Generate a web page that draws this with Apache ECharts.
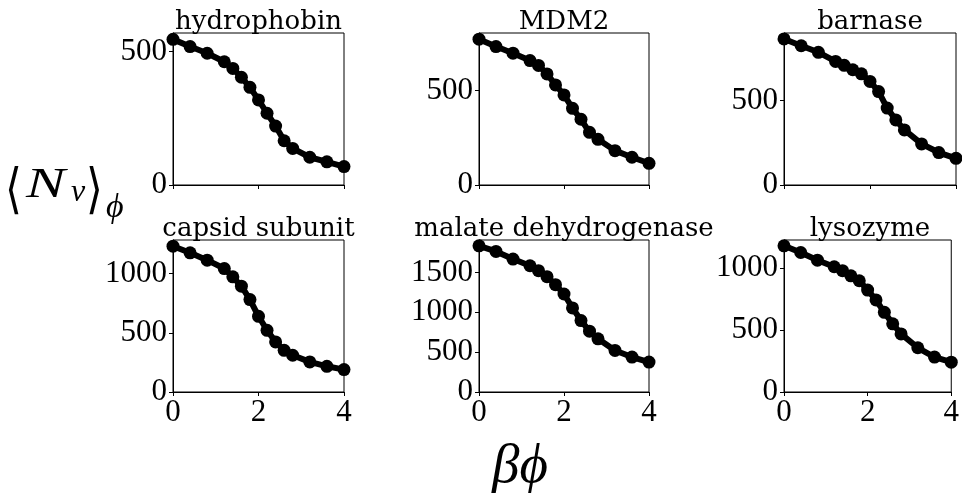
<!DOCTYPE html>
<html><head><meta charset="utf-8">
<script src="https://cdn.jsdelivr.net/npm/echarts@6/dist/echarts.min.js"></script>
<style>html,body{margin:0;padding:0;background:#fff}#c{width:962px;height:493px}</style>
</head><body><div id="c"></div>
<script>
const betaPhi = [0, 0.4, 0.8, 1.2, 1.4, 1.6, 1.8, 2.0, 2.2, 2.4, 2.6, 2.8, 3.2, 3.6, 4.0];
const hydrophobin = [546, 519, 494, 462, 437, 404, 366, 319, 269, 221, 166, 137, 104, 87, 69];
const mdm2 = [772, 733, 698, 659, 633, 588, 530, 477, 406, 348, 279, 242, 182, 147, 115];
const barnase = [864, 824, 785, 731, 708, 682, 658, 613, 553, 455, 385, 326, 243, 192, 158];
const capsid = [1231, 1175, 1113, 1042, 972, 893, 780, 639, 521, 423, 352, 310, 254, 217, 189];
const malate = [1833, 1763, 1667, 1583, 1521, 1446, 1346, 1229, 1054, 896, 763, 667, 521, 438, 375];
const lysozyme = [1180, 1126, 1064, 1011, 979, 938, 898, 823, 743, 643, 550, 469, 357, 282, 241];
const titles = ['hydrophobin', 'MDM2', 'barnase', 'capsid subunit', 'malate dehydrogenase', 'lysozyme'];
const yTicks = [[0, 500], [0, 500], [0, 500], [0, 500, 1000], [0, 500, 1000, 1500], [0, 500, 1000]];
const seriesData = [hydrophobin, mdm2, barnase, capsid, malate, lysozyme];

const cols = [{left: 173, width: 171}, {left: 479, width: 170}, {left: 784, width: 172}];
const rows = [{top: 33, height: 152}, {top: 240, height: 152}];
const tickFont = {fontFamily: 'Liberation Serif', fontSize: 31, color: '#000', formatter: v => String(v)};

const grid = [], xAxis = [], yAxis = [], series = [], graphic = [];
for (let i = 0; i < 6; i++) {
  const c = cols[i % 3], r = rows[Math.floor(i / 3)];
  const bottomRow = i >= 3;
  grid.push({left: c.left, width: c.width, top: r.top, height: r.height, show: true,
    borderColor: '#000', borderWidth: 1, backgroundColor: 'transparent', containLabel: false});
  xAxis.push({type: 'value', gridIndex: i, min: 0, max: 4, interval: 2,
    axisLine: {show: true, onZero: false, lineStyle: {color: '#000', width: 1}},
    axisTick: {show: true, inside: false, length: 4, lineStyle: {color: '#000'}},
    splitLine: {show: false},
    axisLabel: Object.assign({show: bottomRow, margin: 5}, tickFont)});
  yAxis.push({type: 'value', gridIndex: i, min: 0,
    max: v => v.max + 0.05 * (v.max - v.min),
    axisLine: {show: true, onZero: false, lineStyle: {color: '#000', width: 1}},
    axisTick: {show: true, inside: false, length: 4, lineStyle: {color: '#000'}, customValues: yTicks[i]},
    splitLine: {show: false},
    axisLabel: Object.assign({show: true, margin: 6, customValues: yTicks[i]}, tickFont)});
  series.push({type: 'line', xAxisIndex: i, yAxisIndex: i,
    data: betaPhi.map((x, k) => [x, seriesData[i][k]]),
    symbol: 'circle', symbolSize: 13, showSymbol: true,
    lineStyle: {color: '#000', width: 6}, itemStyle: {color: '#000'},
    clip: true, animation: false, silent: true});
  graphic.push({type: 'text', x: c.left + c.width / 2, y: r.top + 2,
    style: {text: titles[i], fontFamily: 'DejaVu Serif', fontSize: 26, fill: '#000',
      align: 'center', verticalAlign: 'bottom'}});
}
// shared axis labels (math text)
const lab = (txt, x, y, size, italic, fam, sx) => ({type: 'text', x: x, y: y, scaleX: sx || 1,
  style: {text: txt, fontFamily: fam || 'Liberation Serif', fontStyle: italic ? 'italic' : 'normal',
    fontSize: size, fill: '#000', align: 'left', verticalAlign: 'middle'}});
graphic.push(lab('\u27E8', 5, 193, 54, false, 'DejaVu Sans', 0.8));
graphic.push(lab('N', 26, 186, 42, true, null, 1.4));
graphic.push(lab('v', 71, 193, 32, true));
graphic.push(lab('\u27E9', 86, 193, 54, false, 'DejaVu Sans', 0.8));
graphic.push(lab('\u03D5', 106, 208, 34, true));
graphic.push({type: 'text', x: 520, y: 468,
  style: {text: '\u03B2\u03D5', fontFamily: 'Liberation Serif', fontStyle: 'italic', fontSize: 55,
    fill: '#000', align: 'center', verticalAlign: 'middle'}});

const chart = echarts.init(document.getElementById('c'), null, {renderer: 'canvas'});
chart.setOption({animation: false, grid, xAxis, yAxis, series, graphic});
</script></body></html>
